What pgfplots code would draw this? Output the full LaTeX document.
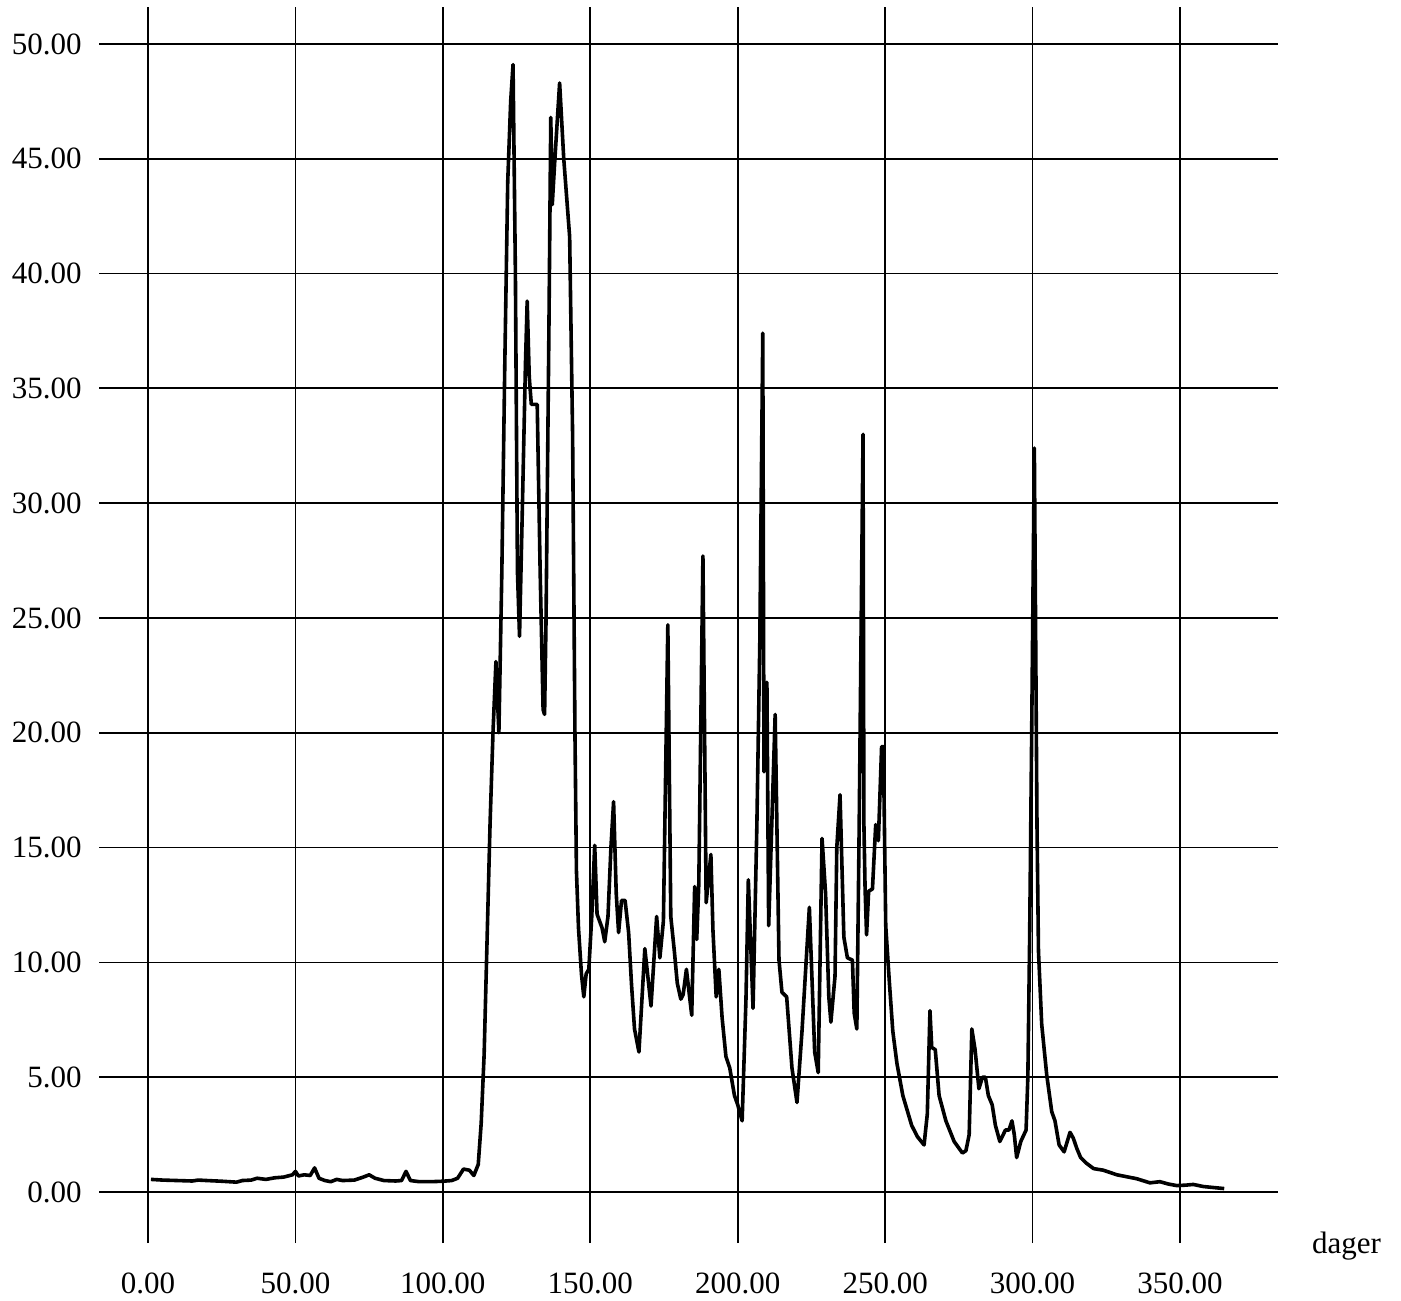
\documentclass[border=0pt]{standalone}
\usepackage{fontspec}
\setmainfont{Liberation Serif}
\usepackage{pgfplots}
\pgfplotsset{compat=1.18}
\begin{document}
\fontsize{15.5}{18}\selectfont
\begin{tikzpicture}
\path[use as bounding box] (0,0) rectangle (700.5pt,650pt);
\begin{axis}[
  at={(49.5pt,28.5pt)}, anchor=south west,
  scale only axis, width=589.5pt, height=618pt,
  xmin=-16.62, xmax=383.24, ymin=-2.22, ymax=51.61,
  axis line style={draw=none},
  xtick={0,50,...,350}, ytick={0,5,...,50},
  major tick length=0pt,
  grid=major, grid style={black, line width=0.9pt},
  xticklabel style={inner sep=0pt, anchor=north},
  yticklabel style={inner sep=0pt, anchor=east},
  xticklabel shift=14.5pt, yticklabel shift=8.5pt,
  /pgf/number format/fixed, /pgf/number format/fixed zerofill,
  /pgf/number format/precision=2, /pgf/number format/assume math mode=true,
  clip=false,
]
\addplot[black, line width=1.8pt, line join=round] coordinates {
(1,0.55) (5,0.52) (10,0.5) (15,0.48) (17,0.52) (20,0.5) (25,0.47) (30,0.43) (32,0.5) (35,0.52) (37,0.6) (40,0.55) (43,0.62) (46,0.65) (49,0.75) (50,0.9) (51,0.7) (53,0.75) (55,0.72) (56.5,1.05) (58,0.6) (60,0.5) (62,0.45) (64,0.55) (66,0.5) (70,0.52) (73,0.65) (75,0.75) (77,0.6) (80,0.5) (84,0.48) (86,0.5) (87.5,0.9) (89,0.5) (92,0.45) (96,0.45) (100,0.47) (103,0.5) (105,0.6) (107,1.0) (109,0.95) (110.5,0.72) (112,1.2) (113,3) (114,6) (115,11) (116,16) (117,20) (118,23.1) (119,20) (120,27) (121,36) (122,44) (123,47.5) (123.8,49.1) (124.6,40) (125.3,27) (126,24.2) (127,30) (128,36) (128.6,38.8) (129.3,35.5) (130,34.3) (132,34.3) (133,27) (134,21) (134.5,20.8) (135,25) (136,38) (136.6,46.8) (137.1,43.0) (138,45) (139.6,48.3) (141,45) (143,41.6) (144,33) (144.8,20) (145.3,14) (146,11.5) (147,9.5) (147.8,8.5) (148.6,9.5) (149.5,9.7) (150.5,12) (151.5,15.1) (152.3,12.1) (154,11.5) (154.9,10.9) (156,12) (157,15) (157.9,17.0) (158.8,13) (159.6,11.3) (160.6,12.7) (161.8,12.7) (163,11.3) (164,9) (165,7.1) (166.5,6.1) (168.5,10.6) (170.6,8.1) (172.5,12.0) (173.6,10.2) (174.8,11.8) (176.3,24.7) (177.3,12.0) (178.5,10.5) (179.5,9.1) (180.7,8.4) (181.5,8.6) (182.6,9.7) (183.5,8.7) (184.4,7.7) (185.4,13.3) (186.1,11.0) (186.8,13.4) (188.2,27.7) (189.3,12.6) (190.9,14.7) (191.6,11.4) (192.7,8.5) (193.6,9.7) (194.7,7.6) (196,5.9) (197.3,5.4) (198.9,4.2) (200,3.8) (201.5,3.1) (202.8,8.4) (203.6,13.6) (205.2,8.0) (206.5,16) (207.5,24) (208.5,37.4) (208.9,18.3) (209.9,22.2) (210.5,11.6) (212.7,20.8) (214,10.1) (215,8.7) (216.6,8.5) (218.4,5.4) (220.1,3.9) (221.8,7.0) (224.3,12.4) (226.1,6.1) (227.3,5.2) (228.6,15.4) (229.8,13.0) (230.9,8.5) (231.6,7.4) (233,9.4) (233.6,15.0) (234.7,17.3) (236,11.1) (237.2,10.2) (238.9,10.1) (239.5,7.8) (240.4,7.1) (241.2,16) (242.5,33.0) (242.8,16) (243.2,13.2) (243.7,11.2) (244.4,13.1) (245.7,13.2) (246.8,16.0) (247.7,15.3) (248.8,19.4) (249.4,19.4) (250.2,11.6) (251.4,9.2) (252.6,7.0) (254,5.6) (256,4.2) (259,2.9) (261,2.4) (263.2,2.05) (264.3,3.4) (265.2,7.9) (265.8,6.3) (267,6.2) (268.3,4.2) (270.6,3.1) (273.4,2.2) (276.2,1.7) (277.4,1.8) (278.5,2.5) (279.4,7.1) (280.5,6.2) (281.8,4.5) (283,5.0) (284,5.0) (285,4.2) (286.3,3.8) (287.4,2.9) (288.9,2.2) (290.8,2.7) (292,2.7) (293,3.1) (293.8,2.5) (294.6,1.5) (296,2.2) (297.8,2.7) (298.4,5) (299,11) (299.7,20) (300.6,32.4) (301.5,16) (302,10.5) (303.1,7.3) (304.8,5.1) (306.5,3.5) (307.6,3.1) (309,2.05) (310.7,1.75) (312.7,2.6) (313.8,2.35) (315,1.9) (316.3,1.5) (318.3,1.25) (320.7,1.02) (324,0.95) (328.6,0.75) (335.3,0.58) (339.8,0.4) (343.2,0.45) (346,0.35) (348.9,0.28) (352,0.3) (354.5,0.33) (357.9,0.24) (361,0.2) (365,0.15)
};
\end{axis}
\node[anchor=base west, inner sep=0pt] at (655.8pt,23.5pt) {dager};
\end{tikzpicture}
\end{document}
